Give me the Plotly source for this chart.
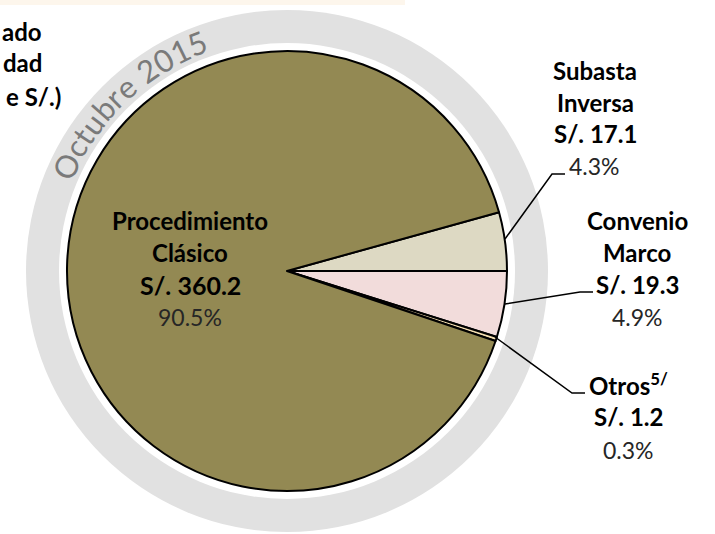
import math
import plotly.graph_objects as go

# ---------------- data ----------------
categories = ["Subasta Inversa", "Convenio Marco", "Otros", "Procedimiento Clásico"]
values = [17.1, 19.3, 1.2, 360.2]
pct_labels = ["4.3%", "4.9%", "0.3%", "90.5%"]
slice_colors = ["#DDD9C3", "#F2DCDB", "#F3DDB0", "#938953"]
ring_text = "Octubre 2015"

W, H = 715, 534
CX, CY, R = 287, 271, 220          # pie centre / radius in pixels
RING_OUT, RING_IN = 261, 228

def px(x):
    return x / W

def py(y):
    return 1 - y / H

total = sum(values)
# first slice ends on the 3 o'clock line
rotation = 90 - 360 * values[0] / total

fig = go.Figure()
fig.add_trace(go.Pie(
    labels=categories, values=values, sort=False, direction="clockwise",
    rotation=rotation, textinfo="none", hoverinfo="label+value+percent",
    showlegend=False,
    marker=dict(colors=slice_colors, line=dict(color="black", width=2)),
    domain=dict(x=[px(CX - R), px(CX + R)], y=[py(CY + R), py(CY - R)]),
))

shapes = []
# faint band at top
shapes.append(dict(type="rect", xref="paper", yref="paper", x0=0, x1=px(405),
                   y0=py(5), y1=1, fillcolor="#FDF6EC", line=dict(width=0), layer="below"))
# grey ring + white gap
shapes.append(dict(type="circle", xref="paper", yref="paper",
                   x0=px(CX - RING_OUT), x1=px(CX + RING_OUT),
                   y0=py(CY + RING_OUT), y1=py(CY - RING_OUT),
                   fillcolor="#E1E1E1", line=dict(width=0), layer="below"))
shapes.append(dict(type="circle", xref="paper", yref="paper",
                   x0=px(CX - RING_IN), x1=px(CX + RING_IN),
                   y0=py(CY + RING_IN), y1=py(CY - RING_IN),
                   fillcolor="white", line=dict(width=0), layer="below"))

# leader lines (pixel polylines)
leaders = [
    [(505, 239), (552, 174), (565, 174)],
    [(505, 304), (580, 292), (593, 292)],
    [(495, 337), (572, 393), (585, 393)],
]
for pts in leaders:
    path = "M " + " L ".join(f"{px(x)},{py(y)}" for x, y in pts)
    shapes.append(dict(type="path", xref="paper", yref="paper", path=path,
                       line=dict(color="black", width=1.5)))

annotations = []

def txt(s, x, y, size=24, bold=True, color="black", anchor="center"):
    annotations.append(dict(
        text=(f"<b>{s}</b>" if bold else s), x=px(x), y=py(y),
        xref="paper", yref="paper", showarrow=False, xanchor=anchor, yanchor="middle",
        font=dict(family="Lato", size=size, color=color)))

# clipped title at top-left
txt("ado", 44, 31, anchor="right")
txt("dad", 44, 63, anchor="right")
txt("e S/.)", 63, 96, anchor="right")

# Procedimiento Clásico
txt("Procedimiento", 190, 220)
txt("Clásico", 190, 252)
txt(f"S/. {values[3]}", 190, 285, size=25)
txt(pct_labels[3], 190, 317, size=23, bold=False, color="#262626")

# Subasta Inversa
txt("Subasta", 595, 70)
txt("Inversa", 595, 102)
txt(f"S/. {values[0]}", 595, 134)
txt(pct_labels[0], 594, 166, size=23, bold=False, color="#262626")

# Convenio Marco
txt("Convenio", 637, 220)
txt("Marco", 637, 252)
txt(f"S/. {values[1]}", 637, 284)
txt(pct_labels[1], 637, 317, size=23, bold=False, color="#262626")

# Otros
txt("Otros<sup>5/</sup>", 628, 384)
txt(f"S/. {values[2]}", 628, 416)
txt(pct_labels[2], 628, 450, size=23, bold=False, color="#262626")

# curved "Octubre 2015" along the ring
adv = {"O": .78, "c": .47, "t": .36, "u": .57, "b": .58, "r": .39, "e": .53,
       " ": .30, "2": .58, "0": .58, "1": .58, "5": .58}
centers = []
acc = 0.0
for ch in ring_text:
    w = adv.get(ch, .55)
    centers.append(acc + w / 2)
    acc += w
a0, a1 = 154.5, 111.5
rt = 245
for ch, c in zip(ring_text, centers):
    if ch == " ":
        continue
    f = (c - centers[0]) / (centers[-1] - centers[0])
    ang = a0 + (a1 - a0) * f
    x = CX + rt * math.cos(math.radians(ang))
    y = CY - rt * math.sin(math.radians(ang))
    annotations.append(dict(
        text=ch, x=px(x), y=py(y), xref="paper", yref="paper", showarrow=False,
        xanchor="center", yanchor="middle", textangle=90 - ang,
        font=dict(family="Lato", size=31, color="#7A7A7A")))

fig.update_layout(
    width=W, height=H, margin=dict(l=0, r=0, t=0, b=0),
    paper_bgcolor="white", plot_bgcolor="white",
    shapes=shapes, annotations=annotations,
)
fig.write_html("out.html", config={"displayModeBar": False},
               post_script="document.body.style.margin='0';document.body.style.overflow='hidden';")
